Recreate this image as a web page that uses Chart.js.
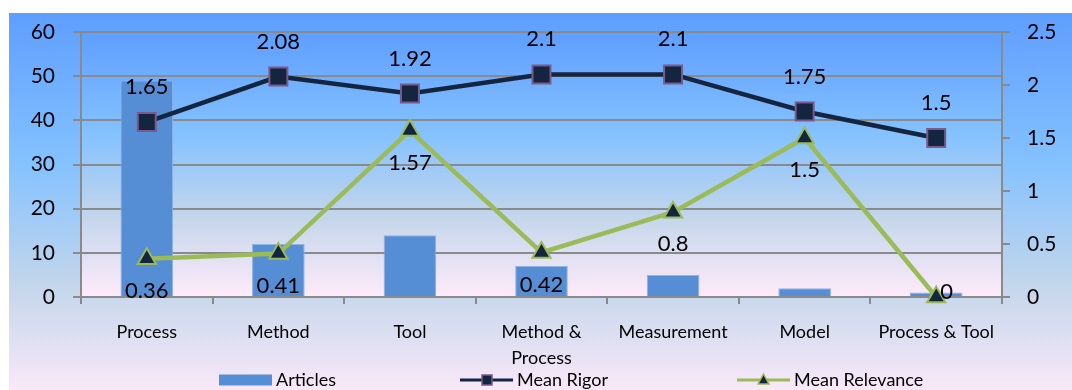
<!DOCTYPE html>
<html>
<head>
<meta charset="utf-8">
<script src="https://cdn.jsdelivr.net/npm/chart.js@4.4.0/dist/chart.umd.min.js"></script>
<style>
  html, body { margin: 0; padding: 0; background: #fff; overflow: hidden; }
  #panel {
    position: absolute; left: 9px; top: 13px; width: 1063px; height: 390px;
    background: linear-gradient(#5E9EFF 0%, #85C2FF 39%, #C4D6EB 70%, #FFEBFA 100%);
  }
</style>
</head>
<body>
<div id="panel"><canvas id="chart" width="1063" height="390"></canvas></div>
<script>
// Du lieu bieu do
const categories = ['Process', 'Method', 'Tool', ['Method &', 'Process'], 'Measurement', 'Model', 'Process & Tool'];
const articles = [49, 12, 14, 7, 5, 2, 1];
const meanRigor = [1.65, 2.08, 1.92, 2.1, 2.1, 1.75, 1.5];
const meanRelevance = [0.36, 0.41, 1.57, 0.42, 0.8, 1.5, 0];
const articleTicks = [0, 10, 20, 30, 40, 50, 60];
const meanTicks = [0, 0.5, 1, 1.5, 2, 2.5];

const FONT = 'Lato';
const GRID = '#8A8A8A';
const BAR = '#558ED5';
const RIGOR = '#14253F';
const RIGOR_EDGE = '#7A5A8A';
const RELEVANCE = '#9BBB59';

// Gradient "daybreak" cho vung ve
function daybreak(ctx, top, bottom) {
    let g = ctx.createLinearGradient(0, top, 0, bottom);
    g.addColorStop(0, '#5E9EFF');
    g.addColorStop(0.39, '#85C2FF');
    g.addColorStop(0.7, '#C4D6EB');
    g.addColorStop(1, '#FFEBFA');
    return g;
}

const plotBackground = {
    id: 'plotBackground',
    beforeDraw(chart) {
        const a = chart.chartArea;
        const ctx = chart.ctx;
        ctx.save();
        ctx.fillStyle = daybreak(ctx, a.top, a.bottom);
        ctx.fillRect(a.left, a.top, a.right - a.left, a.bottom - a.top);
        ctx.restore();
    }
};

// Nhan gia tri: Mean Rigor phia tren, Mean Relevance phia duoi
const valueLabels = {
    id: 'valueLabels',
    afterDatasetsDraw(chart) {
        const ctx = chart.ctx;
        ctx.save();
        ctx.font = `22px ${FONT}`;
        ctx.fillStyle = '#000';
        ctx.textAlign = 'center';
        ctx.textBaseline = 'middle';
        chart.data.datasets.forEach(function(ds, i) {
            if (ds.type !== 'line') return;
            chart.getDatasetMeta(i).data.forEach(function(pt, j) {
                let v = ds.data[j];
                if (ds.label === 'Mean Rigor') {
                    ctx.fillText(String(v), pt.x, pt.y - 35);
                } else if (v === 0) {
                    ctx.textAlign = 'left';
                    ctx.fillText(String(v), pt.x + 4, pt.y - 5);
                    ctx.textAlign = 'center';
                } else {
                    ctx.fillText(String(v), pt.x, pt.y + 32);
                }
            });
        });
        ctx.restore();
    }
};

// Chu thich ve tay o cuoi bieu do
function drawBarKey(ctx, x, y) {
    ctx.fillStyle = BAR;
    ctx.fillRect(x, y - 5.5, 53, 11);
}

function drawRigorKey(ctx, x, y) {
    ctx.strokeStyle = RIGOR;
    ctx.lineWidth = 3;
    ctx.beginPath();
    ctx.moveTo(x, y);
    ctx.lineTo(x + 53, y);
    ctx.stroke();
    ctx.fillStyle = RIGOR;
    ctx.strokeStyle = RIGOR_EDGE;
    ctx.lineWidth = 1.5;
    ctx.fillRect(x + 22, y - 5, 10, 10);
    ctx.strokeRect(x + 22, y - 5, 10, 10);
}

function drawRelevanceKey(ctx, x, y) {
    ctx.strokeStyle = RELEVANCE;
    ctx.lineWidth = 3;
    ctx.beginPath();
    ctx.moveTo(x, y);
    ctx.lineTo(x + 53, y);
    ctx.stroke();
    ctx.fillStyle = RIGOR;
    ctx.lineWidth = 1.5;
    ctx.beginPath();
    ctx.moveTo(x + 26.5, y - 6);
    ctx.lineTo(x + 32, y + 4);
    ctx.lineTo(x + 21, y + 4);
    ctx.closePath();
    ctx.fill();
    ctx.stroke();
}

const legendItems = [
    { text: 'Articles', x: 210, draw: drawBarKey },
    { text: 'Mean Rigor', x: 451, draw: drawRigorKey },
    { text: 'Mean Relevance', x: 728, draw: drawRelevanceKey }
];

const bottomLegend = {
    id: 'bottomLegend',
    afterDraw(chart) {
        const ctx = chart.ctx;
        const y = 367;
        ctx.save();
        legendItems.forEach(function(item) {
            item.draw(ctx, item.x, y);
            ctx.font = `18px ${FONT}`;
            ctx.fillStyle = '#000';
            ctx.textAlign = 'left';
            ctx.textBaseline = 'middle';
            ctx.fillText(item.text, item.x + 57, y);
        });
        ctx.restore();
    }
};

// Co dinh be rong truc doc, bo padding tu dong phia tren/duoi
function fixAxisWidth(width) {
    return function(scale) {
        scale.width = width;
        scale.paddingTop = 0;
        scale.paddingBottom = 0;
    };
}

const data = {
    labels: categories,
    datasets: [{
            type: 'line',
            label: 'Mean Relevance',
            data: meanRelevance,
            yAxisID: 'y1',
            borderColor: RELEVANCE,
            borderWidth: 4.5,
            pointStyle: 'triangle',
            pointRadius: 10.5,
            pointBackgroundColor: RIGOR,
            pointBorderColor: RELEVANCE,
            pointBorderWidth: 2,
            clip: false,
            order: 1
        }, {
            type: 'line',
            label: 'Mean Rigor',
            data: meanRigor,
            yAxisID: 'y1',
            borderColor: RIGOR,
            borderWidth: 4.5,
            pointStyle: 'rect',
            pointRadius: 12.7,
            pointBackgroundColor: RIGOR,
            pointBorderColor: RIGOR_EDGE,
            pointBorderWidth: 2,
            clip: false,
            order: 2
        }, {
            type: 'bar',
            label: 'Articles',
            data: articles,
            yAxisID: 'y',
            backgroundColor: BAR,
            borderColor: '#8DB3E2',
            borderWidth: 1,
            barPercentage: 0.4,
            categoryPercentage: 1,
            order: 3
        }]
};

const config = {
    data: data,
    options: {
        responsive: false,
        animation: false,
        layout: { padding: { top: 19, left: 0, right: 0, bottom: 0 } },
        plugins: {
            legend: { display: false },
            tooltip: { enabled: false }
        },
        scales: {
            x: {
                offset: true,
                grid: { offset: true, drawOnChartArea: false, color: GRID, lineWidth: 2, tickLength: 7 },
                border: { color: GRID, width: 2 },
                ticks: { color: '#000', padding: 15, maxRotation: 0, autoSkip: false, font: { family: FONT, size: 18, lineHeight: 1.45 } },
                afterFit: function(scale) { scale.height = 106; }
            },
            y: {
                position: 'left',
                min: articleTicks[0],
                max: articleTicks[articleTicks.length - 1],
                afterBuildTicks: function(scale) { scale.ticks = articleTicks.map(v => ({ value: v })); },
                grid: { color: GRID, lineWidth: 2, tickLength: 8 },
                border: { color: GRID, width: 2 },
                ticks: { color: '#000', padding: 18, font: { family: FONT, size: 21 } },
                afterFit: fixAxisWidth(72)
            },
            y1: {
                position: 'right',
                min: meanTicks[0],
                max: meanTicks[meanTicks.length - 1],
                afterBuildTicks: function(scale) { scale.ticks = meanTicks.map(v => ({ value: v })); },
                grid: { drawOnChartArea: false, color: GRID, lineWidth: 2, tickLength: 8 },
                border: { color: GRID, width: 2 },
                ticks: { color: '#000', padding: 17, font: { family: FONT, size: 21 }, callback: v => String(v) },
                afterFit: fixAxisWidth(70)
            }
        }
    },
    plugins: [plotBackground, valueLabels, bottomLegend]
};

let context = document.getElementById('chart').getContext('2d');
new Chart(context, config);
</script>
</body>
</html>
